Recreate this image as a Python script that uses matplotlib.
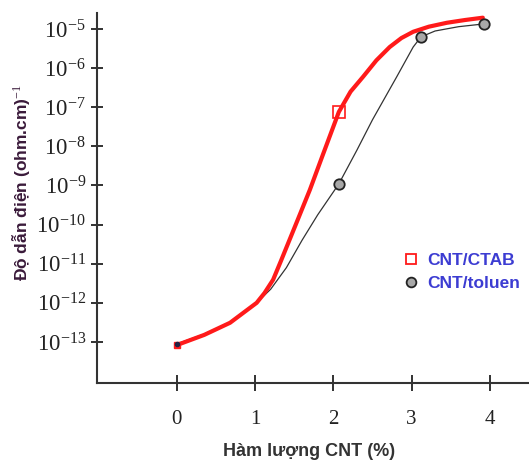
import numpy as np
import matplotlib
import matplotlib.pyplot as plt
from matplotlib.ticker import FixedLocator, FuncFormatter, NullLocator
from matplotlib.lines import Line2D

matplotlib.use("agg")

plt.rcParams["mathtext.fontset"] = "custom"
plt.rcParams["mathtext.rm"] = "Liberation Serif"
plt.rcParams["mathtext.it"] = "Liberation Serif:italic"
plt.rcParams["mathtext.bf"] = "Liberation Serif:bold"

# curves (x = % CNT, y = log10 conductivity)
ctab_x = [0.0, 0.35, 0.68, 1.02, 1.12, 1.23, 1.33, 1.44, 1.55, 1.70, 1.85, 2.07,
          2.22, 2.38, 2.55, 2.72, 2.87, 3.02, 3.22, 3.45, 3.68, 3.91]
ctab_log = [-13.08, -12.82, -12.51, -12.0, -11.75, -11.41, -10.93, -10.39, -9.85,
            -9.11, -8.3, -7.12, -6.6, -6.22, -5.8, -5.46, -5.23, -5.07, -4.94,
            -4.84, -4.77, -4.71]
ctab_marks = [11]

tol_x = [0.0, 0.35, 0.68, 1.02, 1.2, 1.4, 1.6, 1.8, 2.07, 2.3, 2.5, 2.81, 3.02,
         3.12, 3.3, 3.6, 3.92]
tol_log = [-13.05, -12.8, -12.5, -12.0, -11.65, -11.1, -10.4, -9.75, -8.96, -8.1,
           -7.32, -6.22, -5.46, -5.20, -5.05, -4.94, -4.87]
tol_marks = [8, 13, 16]

x_ticks = [0, 1, 2, 3, 4]
y_exps = [-13, -12, -11, -10, -9, -8, -7, -6, -5]

ctab_y = 10.0 ** np.array(ctab_log)
tol_y = 10.0 ** np.array(tol_log)

fig = plt.figure(figsize=(5.29, 4.61), dpi=100)
ax = fig.add_axes([0.1834, 0.1692, 0.8166, 0.8026])

ax.plot(tol_x, tol_y, color="#333333", lw=0.9, zorder=2)
ax.plot(ctab_x, ctab_y, color="#ff1a1a", lw=3.0, solid_capstyle="round",
        solid_joinstyle="round", zorder=3)
ax.plot(ctab_x, ctab_y, ls="none", marker="s", ms=8, mfc="none", mec="#ff1a1a",
        mew=1.2, markevery=ctab_marks, zorder=4)
ax.plot(ctab_x, ctab_y, ls="none", marker="s", ms=5, mfc="#ff1a1a", mec="#ff1a1a",
        markevery=[0], zorder=4)
ax.plot(tol_x, tol_y, ls="none", marker="o", ms=3, mfc="#222244", mec="#222244",
        markevery=[0], zorder=5)
ax.plot(tol_x, tol_y, ls="none", marker="o", ms=7.5, mfc="#a8a8a8", mec="#222222",
        mew=1.3, markevery=tol_marks, zorder=5)

ax.set_yscale("log")
ax.set_xlim(-1.02, 4.5)
ax.set_ylim(10 ** -14.05, 10 ** -4.59)

ax.xaxis.set_major_locator(FixedLocator(x_ticks))
ax.yaxis.set_major_locator(FixedLocator([10.0 ** e for e in y_exps]))
ax.yaxis.set_minor_locator(NullLocator())
ax.yaxis.set_major_formatter(
    FuncFormatter(lambda v, p: f"$10^{{{int(round(np.log10(v)))}}}$"))
ax.xaxis.set_major_formatter(FuncFormatter(lambda v, p: f"{int(v)}"))

ax.tick_params(axis="x", direction="inout", length=11, width=1.3, pad=14,
               labelsize=15, colors="#222222")
ax.tick_params(axis="y", direction="inout", length=8, width=1.3, pad=4,
               labelsize=16.5, colors="#222222")
for t in ax.get_xticklabels():
    t.set_fontfamily("Liberation Serif")

for side in ["top", "right"]:
    ax.spines[side].set_visible(False)
for side in ["left", "bottom"]:
    ax.spines[side].set_linewidth(1.5)
    ax.spines[side].set_color("#333333")

fig.text(0.040, 0.603, "Độ dẫn điện (ohm.cm)$^{-1}$", rotation=90, ha="center",
         va="center", fontsize=12.5, fontweight="bold", color="#3a1a3a",
         family="Liberation Sans")
fig.text(0.585, 0.02, "Hàm lượng CNT (%)", ha="center", va="center", fontsize=13,
         fontweight="bold", color="#333333", family="Liberation Sans")

handles = [
    Line2D([], [], ls="none", marker="s", ms=7, mfc="none", mec="#ff1a1a", mew=1.3),
    Line2D([], [], ls="none", marker="o", ms=7, mfc="#a8a8a8", mec="#222222", mew=1.3),
]
ax.legend(handles, ["CNT/CTAB", "CNT/toluen"], loc="center left",
          bbox_to_anchor=(0.735, 0.41), bbox_transform=fig.transFigure,
          frameon=False, handlelength=0.8, handletextpad=0.5, labelspacing=0.45,
          prop={"family": "Liberation Sans", "weight": "bold", "size": 12.5},
          labelcolor="#3c3cd2")

fig.savefig("out.png", dpi=100)
